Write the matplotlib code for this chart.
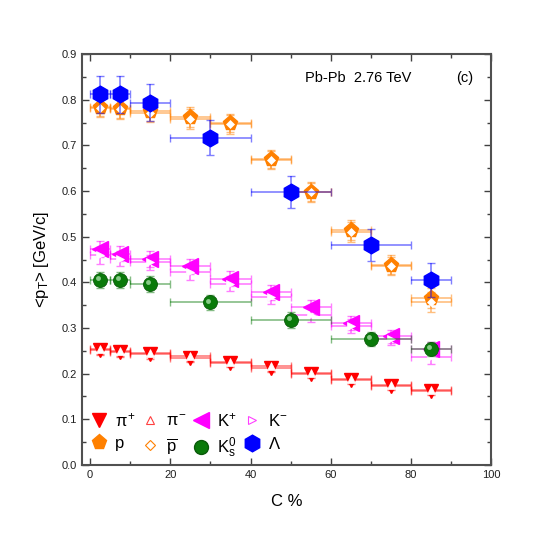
import matplotlib
matplotlib.use("Agg")
import matplotlib.pyplot as plt
from matplotlib.lines import Line2D
import numpy as np

plt.rcParams['font.family'] = ['Liberation Sans', 'DejaVu Sans']
plt.rcParams['mathtext.fontset'] = 'custom'
plt.rcParams['mathtext.rm'] = 'Liberation Sans'
plt.rcParams['mathtext.it'] = 'Liberation Sans'
plt.rcParams['mathtext.bf'] = 'Liberation Sans:bold'

# centrality bins for pi, K, p
cent_lo = [0, 5, 10, 20, 30, 40, 50, 60, 70, 80]
cent_hi = [5, 10, 20, 30, 40, 50, 60, 70, 80, 90]
# centrality bins for K0s, Lambda
v0_lo = [0, 5, 10, 20, 40, 60, 80]
v0_hi = [5, 10, 20, 40, 60, 80, 90]

pip = [0.252, 0.247, 0.243, 0.235, 0.224, 0.213, 0.199, 0.186, 0.173, 0.163]
pim = [0.255, 0.249, 0.246, 0.238, 0.226, 0.216, 0.201, 0.188, 0.175, 0.165]
pi_err = [0.011, 0.011, 0.010, 0.010, 0.010, 0.010, 0.009, 0.009, 0.009, 0.009]

kp = [0.473, 0.463, 0.451, 0.435, 0.408, 0.378, 0.346, 0.311, 0.282, 0.255]
km = [0.459, 0.452, 0.444, 0.422, 0.397, 0.368, 0.329, 0.305, 0.276, 0.236]
k_err = [0.018, 0.017, 0.017, 0.017, 0.016, 0.016, 0.015, 0.015, 0.014, 0.014]

p = [0.784, 0.783, 0.775, 0.762, 0.749, 0.671, 0.599, 0.514, 0.439, 0.365]
pbar = [0.782, 0.780, 0.772, 0.758, 0.746, 0.668, 0.597, 0.511, 0.436, 0.356]
p_err = [0.020, 0.022, 0.021, 0.022, 0.020, 0.020, 0.020, 0.022, 0.020, 0.022]

k0s = [0.405, 0.405, 0.396, 0.356, 0.318, 0.276, 0.254]
k0s_err = [0.018, 0.018, 0.018, 0.017, 0.017, 0.016, 0.016]

lam = [0.812, 0.812, 0.794, 0.717, 0.599, 0.481, 0.406]
lam_err = [0.040, 0.040, 0.040, 0.038, 0.035, 0.035, 0.037]

fig = plt.figure(figsize=(5.47, 5.47), dpi=100)
ax = fig.add_axes([0.150, 0.150, 0.748, 0.751])


def draw(lo, hi, y, yerr, color, marker, ms, face, edge, z, alpha=0.5, mew=1.0):
    lo = np.array(lo, dtype=float)
    hi = np.array(hi, dtype=float)
    x = (lo + hi) / 2
    xerr = (hi - lo) / 2
    ax.errorbar(x, y, xerr=xerr, yerr=yerr, fmt='none', ecolor=color, alpha=alpha,
                elinewidth=1.2, capsize=3, capthick=1.0, zorder=z)
    ax.plot(x, y, linestyle='none', marker=marker, ms=ms, mfc=face, mec=edge,
            mew=mew, zorder=z + 0.5)
    return x


draw(cent_lo, cent_hi, pip, pi_err, '#ff0000', 'v', 10, '#ff0000', '#ff0000', 3)
draw(cent_lo, cent_hi, pim, pi_err, '#ff0000', '^', 6, 'white', 'white', 3.2, mew=0.5)
draw(cent_lo, cent_hi, kp, k_err, '#ff00ff', '<', 11, '#ff00ff', '#ff00ff', 4)
draw(cent_lo, cent_hi, km, k_err, '#ff00ff', '>', 6, 'white', 'white', 4.2, mew=0.5)
draw(cent_lo, cent_hi, p, p_err, '#ff8000', 'p', 11, '#ff8000', '#ff8000', 5)
draw(cent_lo, cent_hi, pbar, p_err, '#ff8000', 'D', 4.5, 'white', 'white', 5.2, mew=0.5)
xk = draw(v0_lo, v0_hi, k0s, k0s_err, '#0a7a0a', 'o', 10, '#0a7a0a', '#0a5a0a', 6, mew=0.6)
ax.plot(xk - 0.5, np.array(k0s) + 0.004, linestyle='none', marker='o', ms=3.5,
        mfc='#a8e0a8', mec='none', alpha=0.8, zorder=6.8)
draw(v0_lo, v0_hi, lam, lam_err, '#0000ff', 'h', 12, '#0000ff', '#0000ff', 7)

ax.set_xlim(-2, 100)
ax.set_ylim(0, 0.9)
ax.set_xticks(np.arange(0, 101, 20))
ax.set_xticks(np.arange(0, 101, 10), minor=True)
ax.set_yticks(np.arange(0, 0.91, 0.1))
ax.set_yticks(np.arange(0, 0.91, 0.05), minor=True)
ax.set_yticklabels(['%.1f' % v for v in np.arange(0, 0.91, 0.1)])
ax.tick_params(which='both', direction='in', top=True, right=True, labelsize=8,
               color='#404040', labelcolor='#202020')
ax.tick_params(which='major', length=5, width=1.0)
ax.tick_params(which='minor', length=3, width=1.0)
for s in ax.spines.values():
    s.set_color('#505050')
    s.set_linewidth(1.5)

ax.set_xlabel('C %', fontsize=12, labelpad=10)
ax.set_ylabel(r'<p$_{\rm T}$> [GeV/c]', fontsize=12, labelpad=8)

fig.text(305 / 547, 1 - 82 / 547, 'Pb-Pb  2.76 TeV', fontsize=10.5)
fig.text(456 / 547, 1 - 82 / 547, '(c)', fontsize=10.5)

handles = [
    Line2D([], [], ls='none', marker='v', ms=10, color='#ff0000'),
    Line2D([], [], ls='none', marker='p', ms=11, color='#ff8000'),
    Line2D([], [], ls='none', marker='^', ms=6, mfc='white', mec='#ff4040', mew=0.8),
    Line2D([], [], ls='none', marker='D', ms=5, mfc='white', mec='#ff8000', mew=0.8),
    Line2D([], [], ls='none', marker='<', ms=11, color='#ff00ff'),
    Line2D([], [], ls='none', marker='o', ms=10, mfc='#0a7a0a', mec='#0a5a0a'),
    Line2D([], [], ls='none', marker='>', ms=6, mfc='white', mec='#ff40ff', mew=0.8),
    Line2D([], [], ls='none', marker='h', ms=12, color='#0000ff'),
]
labels = [r'$\pi^{+}$', 'p', r'$\pi^{-}$', r'$\overline{\rm p}$',
          r'K$^{+}$', r'K$^{0}_{\rm s}$', r'K$^{-}$', r'$\Lambda$']
ax.legend(handles, labels, ncol=4, loc='lower left', bbox_to_anchor=(-0.008, -0.017),
          frameon=False, fontsize=12, handlelength=1.0, handletextpad=0.45,
          columnspacing=0.4, labelspacing=0.4, borderaxespad=0.3)

fig.savefig('out.png', dpi=100)
